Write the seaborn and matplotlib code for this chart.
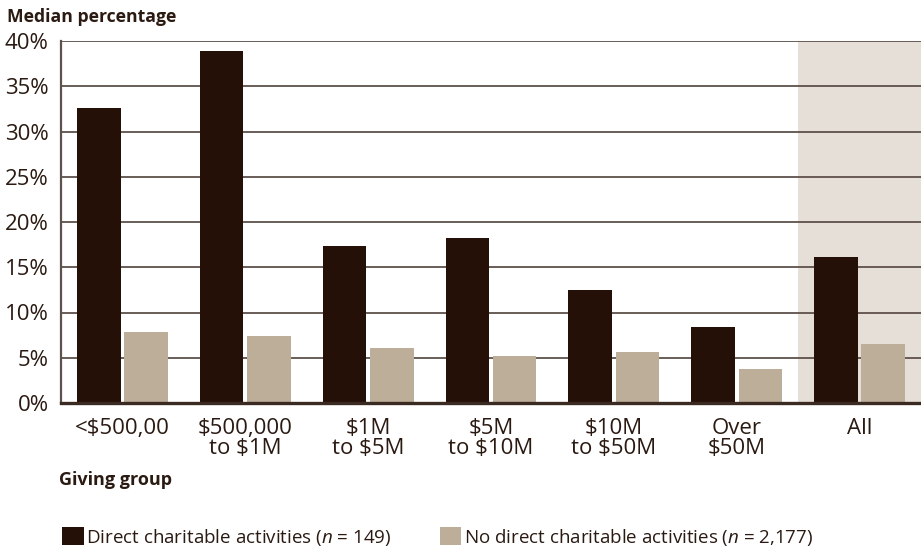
import matplotlib
matplotlib.use("Agg")
import matplotlib.pyplot as plt
import seaborn as sns
import pandas as pd

groups = ["<$500,00", "$500,000\nto $1M", "$1M\nto $5M", "$5M\nto $10M",
          "$10M\nto $50M", "Over\n$50M", "All"]
direct = [32.6, 38.9, 17.4, 18.2, 12.5, 8.4, 16.1]
no_direct = [7.85, 7.4, 6.1, 5.2, 5.6, 3.75, 6.5]
series = ["Direct charitable activities ($n$ = 149)",
          "No direct charitable activities ($n$ = 2,177)"]
yticks = [0, 5, 10, 15, 20, 25, 30, 35, 40]
ytick_labels = ["0%", "5%", "10%", "15%", "20%", "25%", "30%", "35%", "40%"]

df = pd.DataFrame({
    "group": groups * 2,
    "value": direct + no_direct,
    "series": [series[0]] * len(groups) + [series[1]] * len(groups),
})

sns.set_style("white")
plt.rcParams["font.family"] = ["Open Sans", "DejaVu Sans"]
plt.rcParams["mathtext.fontset"] = "custom"
plt.rcParams["mathtext.rm"] = "Open Sans"
plt.rcParams["mathtext.it"] = "Open Sans:italic"

dark = "#251008"
light = "#BDAE9A"
shade = "#E6DFD8"
text_c = "#2A1A12"
grid_c = "#5E504A"

W, H = 921, 552
fig = plt.figure(figsize=(W / 100, H / 100), dpi=100)
ax = fig.add_axes([61 / W, (H - 403) / H, (W - 61) / W, (403 - 41) / H])

sns.barplot(data=df, x="group", y="value", hue="series", order=groups,
            hue_order=series, palette=[dark, light], width=0.77, gap=0.08,
            saturation=1, linewidth=0, ax=ax, zorder=3)

ax.axvspan(5.5, 6.5, color=shade, zorder=0, lw=0)
ax.set_xlim(-0.5, 6.5)
ax.set_ylim(0, 40)
ax.set_yticks(yticks)
ax.set_yticklabels(ytick_labels)
for y in yticks[1:]:
    ax.axhline(y, color=grid_c, lw=1.3, zorder=1)

ax.tick_params(axis="y", length=0, pad=9, labelsize=16, labelcolor=text_c)
ax.tick_params(axis="x", length=0, pad=11, labelsize=16, labelcolor=text_c)
for lbl in ax.get_xticklabels():
    lbl.set_linespacing(0.92)
ax.set_xlabel("")
ax.set_ylabel("")
for s in ["top", "right"]:
    ax.spines[s].set_visible(False)
ax.spines["left"].set_color(grid_c)
ax.spines["left"].set_linewidth(1.6)
ax.spines["bottom"].set_color("#3A2A22")
ax.spines["bottom"].set_linewidth(2.4)
ax.spines["bottom"].set_zorder(4)

handles, labels = ax.get_legend_handles_labels()
ax.get_legend().remove()
fig.legend(handles, labels, loc="center left",
           bbox_to_anchor=(62 / W, 1 - 537 / H), ncol=2, frameon=False,
           fontsize=13.5, handlelength=1.17, handleheight=1.12,
           handletextpad=0.12, columnspacing=2.55, labelcolor=text_c,
           borderaxespad=0, borderpad=0)

fig.text(7 / W, 1 - 17 / H, "Median percentage", fontsize=12.7, fontweight="bold",
         color=text_c, va="center", ha="left")
fig.text(59 / W, 1 - 480 / H, "Giving group", fontsize=13, fontweight="bold",
         color=text_c, va="center", ha="left")

fig.savefig("out.png", dpi=100)
